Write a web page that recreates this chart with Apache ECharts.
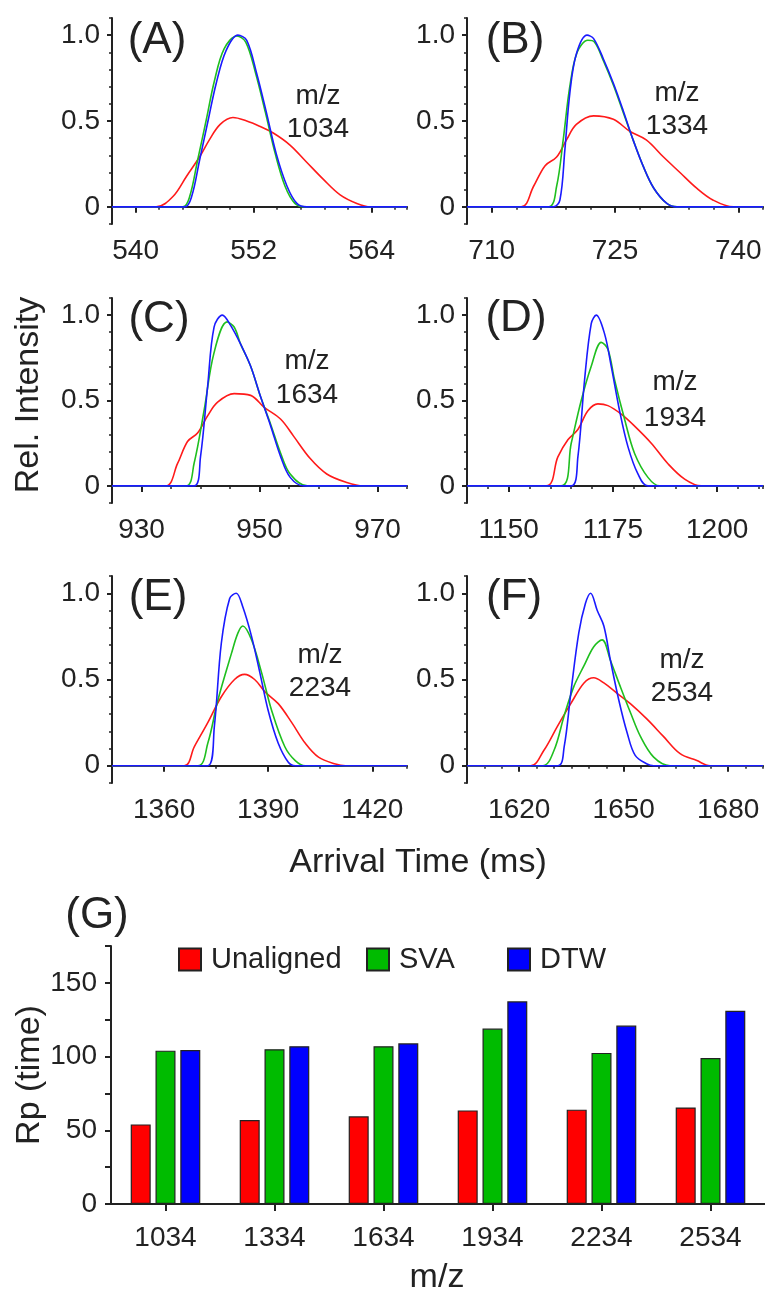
<!DOCTYPE html>
<html><head><meta charset="utf-8">
<script src="https://cdn.jsdelivr.net/npm/echarts@6/dist/echarts.min.js"></script>
<style>html,body{margin:0;padding:0;background:#fff}#c{width:765px;height:1294px}</style>
</head><body><div id="c"></div><script>
// ---------- Data: arrival-time distributions (x = ms, y = rel. intensity) ----------
const A_red   = [[537.6,0],[542.1,0],[543.8,0.06],[545.2,0.18],[546.5,0.29],[547.5,0.39],[548.6,0.48],[549.9,0.52],[551.3,0.50],[552.6,0.47],[554.0,0.43],[555.7,0.36],[557.4,0.26],[559.1,0.16],[560.8,0.07],[562.5,0.02],[563.9,0],[567.6,0]];
const A_green = [[537.6,0],[544.8,0],[545.5,0.06],[546.3,0.27],[547.2,0.51],[548.0,0.73],[549.0,0.92],[550.3,0.995],[551.2,0.96],[552.2,0.78],[553.2,0.55],[554.2,0.31],[555.2,0.12],[556.2,0.02],[557.2,0],[567.6,0]];
const A_blue  = [[537.6,0],[545.0,0],[545.7,0.06],[546.5,0.27],[547.4,0.51],[548.2,0.72],[549.2,0.91],[550.4,1.0],[551.3,0.97],[552.3,0.78],[553.3,0.55],[554.3,0.31],[555.4,0.12],[556.4,0.02],[557.4,0],[567.6,0]];

const B_red   = [[707,0],[713.6,0],[715.1,0.12],[716.5,0.24],[717.9,0.29],[719.1,0.39],[720.3,0.48],[722.4,0.53],[724.8,0.51],[726.8,0.44],[728.8,0.39],[730.9,0.29],[732.9,0.20],[734.9,0.11],[736.9,0.04],[739.4,0],[743,0]];
const B_green = [[707,0],[716.9,0],[717.9,0.12],[718.7,0.39],[719.5,0.70],[720.4,0.90],[721.7,0.97],[722.5,0.96],[723.6,0.85],[724.8,0.71],[726.0,0.55],[727.2,0.39],[728.4,0.24],[729.7,0.11],[731.3,0.02],[732.6,0],[743,0]];
const B_blue  = [[707,0],[717.5,0],[718.3,0.04],[718.9,0.33],[719.5,0.66],[720.3,0.89],[721.6,1.0],[722.4,0.98],[723.6,0.86],[724.8,0.72],[726.0,0.56],[727.2,0.39],[728.4,0.24],[729.7,0.11],[731.3,0.02],[732.5,0],[743,0]];

const C_red   = [[925,0],[934.1,0],[936.1,0.13],[937.8,0.26],[939.5,0.31],[941.2,0.41],[942.9,0.49],[945.7,0.54],[948.5,0.53],[950.8,0.46],[953.6,0.39],[955.8,0.29],[958.6,0.16],[961.4,0.07],[964.8,0.02],[967.6,0],[975,0]];
const C_green = [[925,0],[937.5,0],[938.9,0.13],[940.6,0.44],[942.3,0.78],[944.5,0.96],[945.7,0.93],[946.8,0.83],[948.5,0.70],[950.2,0.52],[951.9,0.36],[953.6,0.19],[955.2,0.07],[958.1,0],[975,0]];
const C_blue  = [[925,0],[938.9,0],[940.0,0.17],[941.2,0.58],[942.3,0.93],[943.7,1.0],[945.1,0.94],[946.8,0.83],[948.5,0.70],[950.2,0.52],[951.9,0.35],[953.6,0.17],[955.2,0.05],[957.5,0],[975,0]];

const D_red   = [[1140,0],[1159.0,0],[1161.8,0.17],[1164.2,0.27],[1166.6,0.33],[1169.0,0.44],[1171.4,0.48],[1173.8,0.47],[1177.0,0.42],[1180.2,0.35],[1184.2,0.25],[1188.2,0.13],[1192.2,0.04],[1196.2,0],[1211,0]];
const D_green = [[1140,0],[1162.6,0],[1165.0,0.25],[1167.4,0.50],[1169.8,0.70],[1172.2,0.84],[1173.8,0.80],[1175.4,0.62],[1177.8,0.39],[1180.2,0.19],[1183.4,0.05],[1186.2,0],[1211,0]];
const D_blue  = [[1140,0],[1165.0,0],[1166.6,0.17],[1168.2,0.62],[1169.8,0.95],[1171.0,1.0],[1173.0,0.89],[1174.6,0.70],[1176.6,0.44],[1178.6,0.23],[1181.0,0.07],[1183.4,0],[1211,0]];

const E_red   = [[1345,0],[1365.8,0],[1368.7,0.11],[1372.6,0.25],[1376.5,0.40],[1380.3,0.50],[1383.2,0.53],[1386.1,0.50],[1389.0,0.43],[1392.9,0.36],[1396.8,0.25],[1400.7,0.13],[1404.5,0.05],[1409.4,0.01],[1412.3,0],[1430,0]];
const E_green = [[1345,0],[1369.7,0],[1372.6,0.13],[1375.5,0.38],[1379.4,0.65],[1381.3,0.77],[1382.7,0.81],[1385.2,0.73],[1388.1,0.54],[1391.0,0.32],[1394.8,0.11],[1397.8,0.03],[1400.7,0],[1430,0]];
const E_blue  = [[1345,0],[1372.6,0],[1374.5,0.23],[1376.5,0.71],[1378.9,0.97],[1380.8,1.0],[1382.7,0.92],[1385.2,0.75],[1387.6,0.54],[1390.0,0.32],[1392.9,0.13],[1395.8,0.02],[1397.8,0],[1430,0]];

const F_red   = [[1605,0],[1623.3,0],[1627.1,0.09],[1631.0,0.23],[1634.8,0.36],[1638.6,0.48],[1641.4,0.51],[1644.3,0.48],[1648.1,0.42],[1651.9,0.36],[1656.7,0.27],[1661.4,0.17],[1666.2,0.07],[1671.0,0.03],[1674.8,0],[1690,0]];
const F_green = [[1605,0],[1626.7,0],[1630.0,0.09],[1632.9,0.29],[1635.7,0.46],[1638.6,0.58],[1641.4,0.69],[1643.8,0.73],[1646.2,0.61],[1649.0,0.46],[1651.9,0.31],[1654.8,0.17],[1658.6,0.05],[1663.3,0],[1690,0]];
const F_blue  = [[1605,0],[1631.0,0],[1632.9,0.11],[1634.8,0.42],[1637.1,0.77],[1639.0,0.94],[1640.5,1.0],[1642.4,0.90],[1644.3,0.81],[1646.2,0.61],[1648.6,0.38],[1651.0,0.19],[1653.3,0.06],[1656.7,0.01],[1658.6,0],[1690,0]];

// x-axis tick labels per panel
const A_ticks = [540, 552, 564];
const B_ticks = [710, 725, 740];
const C_ticks = [930, 950, 970];
const D_ticks = [1150, 1175, 1200];
const E_ticks = [1360, 1390, 1420];
const F_ticks = [1620, 1650, 1680];
const Y_ticks = [0, 0.5, 1.0];

const panelLabels = ['(A)', '(B)', '(C)', '(D)', '(E)', '(F)'];
const panelMz = ['1034', '1334', '1634', '1934', '2234', '2534'];

// ---------- Data: resolving power bar chart ----------
const mzCategories = ['1034', '1334', '1634', '1934', '2234', '2534'];
const rpUnaligned = [54, 57, 59.5, 63.5, 64, 65.5];
const rpSVA       = [104, 105, 107, 119, 102.5, 99];
const rpDTW       = [104.5, 107, 109, 137.5, 121, 131];
const barYTicks   = [0, 50, 100, 150];

// ---------- Build ----------
const FONT = 'Liberation Sans, Arial, sans-serif';
const TXT = '#222';
const RED = '#ff1a1a', GREEN = '#1fbf1f', BLUE = '#1a1aff';

const panels = [
  {red: A_red, green: A_green, blue: A_blue, ticks: A_ticks, min: 537.6, max: 567.6, minor: 2.4},
  {red: B_red, green: B_green, blue: B_blue, ticks: B_ticks, min: 707, max: 743, minor: 3},
  {red: C_red, green: C_green, blue: C_blue, ticks: C_ticks, min: 925, max: 975, minor: 5},
  {red: D_red, green: D_green, blue: D_blue, ticks: D_ticks, min: 1140, max: 1211, minor: 5},
  {red: E_red, green: E_green, blue: E_blue, ticks: E_ticks, min: 1345, max: 1430, minor: 15},
  {red: F_red, green: F_green, blue: F_blue, ticks: F_ticks, min: 1605, max: 1690, minor: 5}
];
const gridPos = [
  {left: 112, top: 18, width: 295, height: 206},
  {left: 467, top: 18, width: 296, height: 206},
  {left: 112, top: 298, width: 295, height: 205},
  {left: 467, top: 298, width: 296, height: 205},
  {left: 112, top: 576, width: 295, height: 207},
  {left: 467, top: 576, width: 296, height: 207}
];

const grid = [], xAxis = [], yAxis = [], series = [];
panels.forEach((p, i) => {
  grid.push(Object.assign({containLabel: false}, gridPos[i]));
  xAxis.push({
    type: 'value', gridIndex: i, position: 'bottom', min: p.min, max: p.max,
    axisLine: {show: true, lineStyle: {color: TXT, width: 2}},
    axisTick: {show: true, customValues: p.ticks, length: 6, lineStyle: {color: TXT, width: 2}},
    axisLabel: {customValues: p.ticks, fontSize: 28, color: TXT, fontFamily: FONT, margin: 13,
      formatter: v => String(Math.round(v))},
    splitLine: {show: false}
  });
  xAxis.push({
    type: 'value', gridIndex: i, position: 'bottom', min: p.min, max: p.max, interval: p.minor,
    axisLine: {show: false},
    axisTick: {show: true, length: 3, lineStyle: {color: TXT, width: 1.5}},
    axisLabel: {show: false}, splitLine: {show: false}
  });
  yAxis.push({
    type: 'value', gridIndex: i, position: 'left', min: -0.1, max: 1.1,
    axisLine: {show: true, lineStyle: {color: TXT, width: 2}},
    axisTick: {show: true, customValues: Y_ticks, length: 5, lineStyle: {color: TXT, width: 2}},
    axisLabel: {customValues: Y_ticks, fontSize: 28, color: TXT, fontFamily: FONT, margin: 12,
      formatter: v => (v === 0 ? '0' : v.toFixed(1))},
    splitLine: {show: false}
  });
  yAxis.push({
    type: 'value', gridIndex: i, position: 'left', min: -0.1, max: 1.1, interval: 0.1,
    axisLine: {show: false},
    axisTick: {show: true, length: 3, lineStyle: {color: TXT, width: 1.5}},
    axisLabel: {show: false}, splitLine: {show: false}
  });
  [[p.red, RED], [p.green, GREEN], [p.blue, BLUE]].forEach(([d, c]) => {
    series.push({
      type: 'line', xAxisIndex: 2 * i, yAxisIndex: 2 * i, data: d,
      showSymbol: false, smooth: 0.35, silent: true,
      lineStyle: {color: c, width: 1.6}, animation: false
    });
  });
});

// bar chart
const gb = grid.length;
grid.push({left: 111, top: 946, width: 654, height: 258, containLabel: false});
xAxis.push({
  type: 'category', gridIndex: gb, data: mzCategories,
  axisLine: {show: true, lineStyle: {color: TXT, width: 2}},
  axisTick: {show: true, alignWithLabel: true, length: 7, lineStyle: {color: TXT, width: 2}},
  axisLabel: {fontSize: 28, color: TXT, fontFamily: FONT, margin: 20}
});
yAxis.push({
  type: 'value', gridIndex: gb, min: 0, max: 175, interval: 25,
  axisLine: {show: true, lineStyle: {color: TXT, width: 2}},
  axisTick: {show: true, length: 6, lineStyle: {color: TXT, width: 2}},
  axisLabel: {fontSize: 28, color: TXT, fontFamily: FONT, margin: 14,
    formatter: v => (barYTicks.indexOf(v) >= 0 ? String(v) : '')},
  splitLine: {show: false}
});
const bx = xAxis.length - 1, by = yAxis.length - 1;
[['Unaligned', rpUnaligned, '#ff0000'], ['SVA', rpSVA, '#00bb00'], ['DTW', rpDTW, '#0000ff']].forEach(([n, d, c]) => {
  series.push({
    type: 'bar', name: n, xAxisIndex: bx, yAxisIndex: by, data: d,
    barWidth: 20, barGap: '24%',
    itemStyle: {color: c, borderColor: '#222', borderWidth: 1.2}, animation: false
  });
});

const legendPos = [['Unaligned', 178], ['SVA', 366], ['DTW', 507]];
const legend = legendPos.map(([n, l]) => ({
  data: [n], left: l, top: 945, padding: 0, itemWidth: 22, itemHeight: 22, icon: 'rect',
  selectedMode: false,
  textStyle: {fontSize: 29, color: TXT, fontFamily: FONT, padding: [0, 0, 0, 5]}
}));

// graphic text
const lblPos = [[157, 41], [515, 41], [159, 320], [516, 319], [158, 598], [514, 598]];
const mzPos = [[318, 96, 129], [677, 93, 126], [307, 361, 395], [675, 382, 418], [320, 655, 688], [682, 660, 693]];
const graphic = [];
function txt(t, x, y, size, rot) {
  graphic.push({type: 'text', x: x, y: y, rotation: rot || 0,
    style: {text: t, fontSize: size, fontFamily: FONT, fill: TXT, align: 'center', verticalAlign: 'middle'}});
}
panelLabels.forEach((t, i) => txt(t, lblPos[i][0], lblPos[i][1], 44));
panelMz.forEach((t, i) => { txt('m/z', mzPos[i][0], mzPos[i][1], 28); txt(t, mzPos[i][0], mzPos[i][2], 28); });
txt('Rel. Intensity', 29, 395, 34, Math.PI / 2);
txt('Arrival Time (ms)', 418, 863, 34);
txt('(G)', 97, 916, 44);
txt('Rp (time)', 30, 1075, 34, Math.PI / 2);
txt('m/z', 437, 1278, 34);

const chart = echarts.init(document.getElementById('c'), null, {renderer: 'canvas'});
chart.setOption({
  backgroundColor: '#fff', animation: false,
  grid: grid, xAxis: xAxis, yAxis: yAxis, series: series, legend: legend, graphic: graphic
});
</script></body></html>
